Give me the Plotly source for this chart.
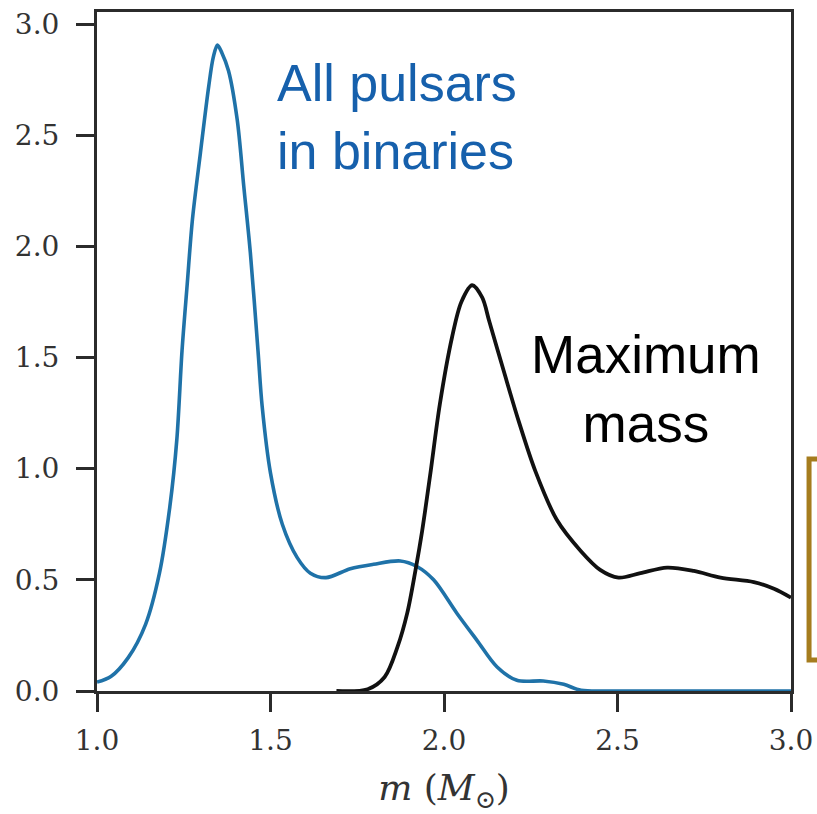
import plotly.graph_objects as go

# Blue curve: all pulsars in binaries
pulsar_m = [1.00, 1.04, 1.09, 1.14, 1.18, 1.21, 1.23, 1.245, 1.26, 1.275, 1.298, 1.322, 1.335, 1.347,
            1.36, 1.379, 1.404, 1.423, 1.442, 1.464, 1.476, 1.50, 1.534, 1.577, 1.615, 1.66, 1.73,
            1.797, 1.874, 1.922, 1.97, 2.037, 2.095, 2.153, 2.21, 2.286, 2.345, 2.395, 2.5, 3.0]
pulsar_p = [0.04, 0.065, 0.15, 0.30, 0.53, 0.83, 1.13, 1.53, 1.83, 2.12, 2.42, 2.72, 2.85, 2.905,
            2.87, 2.79, 2.57, 2.27, 1.97, 1.53, 1.28, 0.98, 0.75, 0.60, 0.53, 0.51, 0.55,
            0.57, 0.585, 0.56, 0.50, 0.35, 0.228, 0.108, 0.048, 0.045, 0.030, 0.003, 0.0, 0.0]

# Black curve: maximum mass
maxm_m = [1.69, 1.78, 1.829, 1.866, 1.894, 1.918, 1.937, 1.96, 1.988, 2.023, 2.05, 2.081,
          2.11, 2.13, 2.172, 2.215, 2.263, 2.325, 2.394, 2.45, 2.503, 2.566, 2.643, 2.72,
          2.797, 2.893, 2.951, 3.0]
maxm_p = [0.0, 0.008, 0.063, 0.198, 0.35, 0.545, 0.72, 0.97, 1.29, 1.59, 1.75, 1.825,
          1.77, 1.665, 1.44, 1.215, 0.99, 0.77, 0.63, 0.545, 0.51, 0.53, 0.555, 0.54,
          0.51, 0.49, 0.46, 0.42]

x_ticks = [1.0, 1.5, 2.0, 2.5, 3.0]
y_ticks = [0.0, 0.5, 1.0, 1.5, 2.0, 2.5, 3.0]

fig = go.Figure()
fig.add_trace(go.Scatter(x=pulsar_m, y=pulsar_p, mode="lines",
                         line=dict(color="#1f72a8", width=3.6, shape="spline", smoothing=0.9),
                         showlegend=False))
fig.add_trace(go.Scatter(x=maxm_m, y=maxm_p, mode="lines",
                         line=dict(color="#111111", width=3.8, shape="spline", smoothing=0.9),
                         showlegend=False))

tickfont = dict(family="DejaVu Serif", size=28, color="#333333")
fig.update_xaxes(range=[1.0, 3.0], tickmode="array", tickvals=x_ticks,
                 ticktext=[f"{v:.1f}" for v in x_ticks],
                 showline=True, mirror=True, linecolor="#2b2b2b", linewidth=3,
                 ticks="outside", ticklen=18, tickwidth=3, tickcolor="#2b2b2b",
                 showgrid=False, zeroline=False, tickfont=tickfont, automargin=False,
                 ticklabelstandoff=4,
                 title=dict(text="<i>m</i> (<i>M</i><sub>⊙</sub>)",
                            font=dict(family="DejaVu Serif", size=36, color="#333333"), standoff=33))
fig.update_yaxes(range=[0, 3.054], tickmode="array", tickvals=y_ticks,
                 ticktext=[f"{v:.1f}" for v in y_ticks],
                 showline=True, mirror=True, linecolor="#2b2b2b", linewidth=3,
                 ticks="outside", ticklen=18, tickwidth=3, tickcolor="#2b2b2b",
                 showgrid=False, zeroline=False, tickfont=tickfont, automargin=False,
                 ticklabelstandoff=11)

fig.add_annotation(x=1.513, y=2.58, xref="x", yref="y", text="All pulsars<br>in binaries",
                   showarrow=False, xanchor="left", yanchor="middle", align="left",
                   font=dict(family="Liberation Sans", size=52, color="#1660ac"))
fig.add_annotation(x=2.583, y=1.36, xref="x", yref="y", text="Maximum<br>mass",
                   showarrow=False, xanchor="center", yanchor="middle", align="center",
                   font=dict(family="Liberation Sans", size=53, color="#000000"))

fig.add_shape(type="rect", xref="paper", yref="paper", x0=1.026, x1=1.1, y0=0.0457, y1=0.3417,
              line=dict(color="#a57c1e", width=5), fillcolor="rgba(0,0,0,0)", opacity=1)

fig.update_layout(template="simple_white", width=817, height=814,
                  margin=dict(l=97, r=26, t=12, b=123),
                  plot_bgcolor="white", paper_bgcolor="white")

fig.write_html("out.html")
